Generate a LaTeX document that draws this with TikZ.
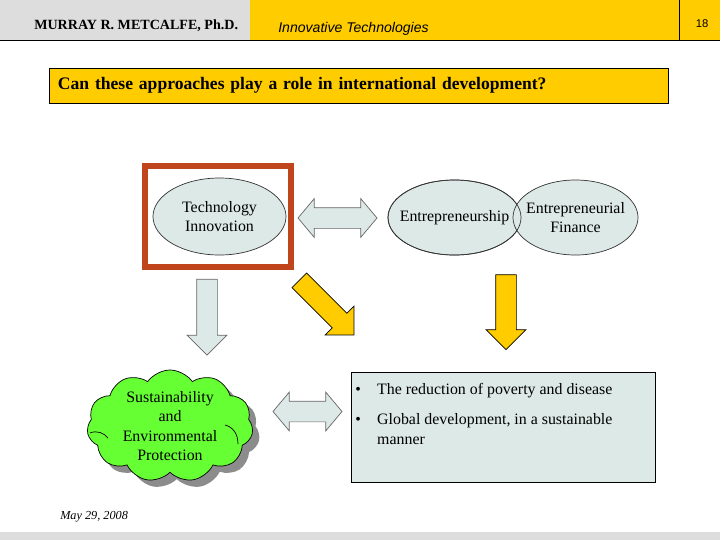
\documentclass[tikz,border=0pt]{standalone}
\usepackage{fontspec}
\setmainfont{Liberation Serif}
\setsansfont{Liberation Sans}
\usepackage{tikz}
\usetikzlibrary{positioning,shapes.geometric,shapes.arrows,shapes.symbols,shadows}
\definecolor{SlideYellow}{HTML}{FFCC00}
\definecolor{SlideGray}{HTML}{DDDDDD}
\definecolor{IdeaFill}{HTML}{DDE9E6}
\definecolor{FocusRed}{HTML}{C0441C}
\definecolor{CloudGreen}{HTML}{66FF33}

\begin{document}
\begin{tikzpicture}[
  x=0.025cm, y=-0.025cm,
  body/.style={font=\fontsize{11.3}{13.6}\selectfont},
  % negative inner sep: the oval size comes from minimum width/height only
  oval/.style={ellipse,draw=black!80,line width=0.5pt,fill=IdeaFill,
               inner xsep=-1cm,inner ysep=-0.5cm,align=center,body},
  flow/.style={single arrow,draw=#1,line width=0.5pt,inner xsep=0pt,inner ysep=0.25cm,
               single arrow head extend=0.24cm,single arrow tip angle=90},
  link/.style={double arrow,draw=black!60,line width=0.5pt,fill=IdeaFill,
               inner xsep=0pt,inner ysep=0.25cm,
               double arrow head extend=0.225cm,double arrow tip angle=100},
  question/.style={draw=black,line width=0.6pt,fill=SlideYellow,minimum width=15.45cm,
                   minimum height=0.875cm,text width=15.05cm,inner xsep=0.2cm,align=left,
                   font=\fontsize{12.5}{14}\selectfont\bfseries},
]
\useasboundingbox (0,0) rectangle (720,540);

% slide frame: header bands and footer strip
\fill[SlideGray]   (0,0)   rectangle (250,40);
\fill[SlideYellow] (250,0) rectangle (720,40);
\draw[line width=0.6pt] (0,40) -- (720,40);
\draw[line width=0.5pt] (679,0) -- (679,40);
\fill[SlideGray] (0,532) rectangle (720,540);

\node[anchor=base west,inner sep=0pt,font=\fontsize{10}{12}\selectfont\bfseries]
  (author) at (34,29) {MURRAY R. METCALFE, Ph.D.};
\node[anchor=base west,inner sep=0pt,font=\fontsize{10}{12}\selectfont\sffamily\itshape]
  (course) at (278,32) {Innovative Technologies};
\node[anchor=base,inner sep=0pt,font=\fontsize{8}{10}\selectfont\sffamily]
  (pageno) at (702,27) {18};
\node[anchor=base west,inner sep=0pt,font=\fontsize{8.7}{10}\selectfont\itshape]
  (date) at (60,519) {May 29, 2008};

\node[question] (q) at (359,85.5) {Can these approaches play a role in international development?};

% top row: the two approaches
\node[oval,minimum width=3.325cm,minimum height=1.925cm] (tech) at (219.5,216.5)
  {Technology\\Innovation};
\node[draw=FocusRed,line width=0.15cm,minimum width=3.65cm,minimum height=2.525cm]
  (focus) at (218,216.5) {};
\node[oval,minimum width=3.325cm,minimum height=1.875cm] (entr) at (454.5,217.5)
  {Entrepreneurship};
\node[oval,minimum width=3.125cm,minimum height=1.875cm] (fin) at (575.5,217.5)
  {Entrepreneurial\\Finance};
% the Entrepreneurship outline shows through the Finance oval
\draw[draw=black!80,line width=0.5pt] (entr.center) ellipse [x radius=1.6625cm, y radius=0.9375cm];

\node[link,minimum height=1.975cm] (toplink) at (337.5,218) {};

% arrows down to the outcomes
\node[flow=black!60,fill=IdeaFill,minimum height=1.9cm,rotate=-90] (techdown) at (207,312) {};
\node[flow=black,fill=SlideYellow,minimum height=1.93cm,rotate=-45,
      single arrow head extend=0.25cm] (cross) at (323,304) {};
\node[flow=black,fill=SlideYellow,minimum height=1.875cm,rotate=-90] (findown) at (506,307) {};

% bottom row: outcomes
\node[cloud,cloud puffs=11,cloud puff arc=110,cloud ignores aspect,draw=black,
      line width=0.5pt,fill=CloudGreen,minimum width=4.15cm,minimum height=2.8cm,
      drop shadow={shadow xshift=0.17cm,shadow yshift=-0.17cm,fill=black!45,opacity=1}]
  (sust) at (170,426) {};
% inner folds of the cloud outline
\draw[line width=0.5pt] (90,433) .. controls (97,430) and (104,433) .. (108,438);
\draw[line width=0.5pt] (225,425) .. controls (233,427) and (238,434) .. (238,444);
\node[align=center,body] (sustlbl) at (sust.center)
  {Sustainability\\and\\Environmental\\Protection};

\node[link,minimum height=1.725cm] (botlink) at (307.5,411.5) {};

\node[draw=black,line width=0.6pt,fill=IdeaFill,minimum width=7.6cm,minimum height=2.75cm]
  (impact) at (503,427) {};
\node[anchor=base west,inner sep=0pt,font=\fontsize{11.3}{14.2}\selectfont] (impacttxt) at (355,394)
  {\begin{tabular}[t]{@{}p{15.6pt}@{}l@{}}
   \textbullet & The reduction of poverty and disease\\[7.6pt]
   \textbullet & Global development, in a sustainable\\
               & manner
   \end{tabular}};
\end{tikzpicture}
\end{document}
